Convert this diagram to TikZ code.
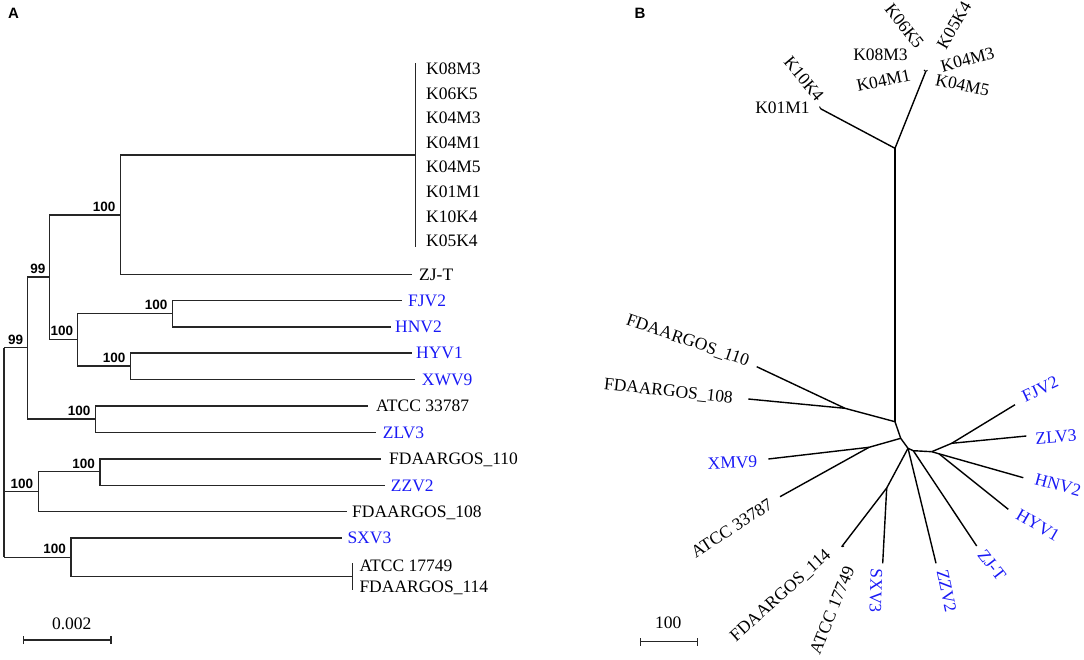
\documentclass[tikz,border=0pt]{standalone}
\usepackage{fontspec}
\setmainfont{Liberation Serif}
\setsansfont{Liberation Sans}
\definecolor{lblue}{RGB}{25,25,245}
\begin{document}
\begin{tikzpicture}[x=1pt,y=-1pt,
  br/.style={draw=black!85,line width=1.2pt},
  bl/.style={draw=black,line width=1.4pt,line join=round},
  lbl/.style={font=\fontsize{17.5}{20}\selectfont,inner sep=0pt,text height=11.6pt,text depth=0pt,anchor=west},
  rl/.style={font=\fontsize{17.5}{20}\selectfont,inner sep=0pt,text height=11.6pt,text depth=0pt,anchor=center},
  bs/.style={font=\sffamily\bfseries\fontsize{13.5}{14}\selectfont,inner sep=0pt,anchor=south east},
  panel/.style={font=\sffamily\bfseries\fontsize{15}{16}\selectfont,inner sep=0pt},
  bluet/.style={text=lblue}]
\useasboundingbox (0,0) rectangle (1084,659);
\node[panel] (PA) at (13.5,13) {A};
\node[panel] (PB) at (640,13) {B};
% ---------------- Panel A ----------------
\coordinate (r1) at (4,347.7);
\coordinate (rb) at (4,491.7);
\coordinate (r2) at (4,557.3);
\coordinate (a1) at (27.3,347.7);
\coordinate (a2) at (49.7,277);
\coordinate (a3) at (120.7,215);
\coordinate (a4) at (77.3,339.3);
\coordinate (a5) at (172.7,313.3);
\coordinate (a6) at (130.7,366);
\coordinate (a7) at (95.7,419);
\coordinate (b1) at (38.3,491.7);
\coordinate (b2) at (100,471.7);
\coordinate (c1) at (71,557.3);
\coordinate (c2) at (352.7,576.7);
\coordinate (kc) at (415.7,155);
\coordinate (kt) at (415.7,63);
\coordinate (kb) at (415.7,247);
\coordinate (eZJT) at (412,274.3);
\coordinate (eFJV2) at (402.3,300.7);
\coordinate (eHNV2) at (390.7,327);
\coordinate (eHYV1) at (411.7,353);
\coordinate (eXWV9) at (415,379.3);
\coordinate (e33787) at (367.7,406);
\coordinate (eZLV3) at (376,432.7);
\coordinate (e110) at (380.7,459);
\coordinate (eZZV2) at (385,485.3);
\coordinate (e108) at (346.7,511.7);
\coordinate (eSXV3) at (341.7,538);
\coordinate (ct) at (352.7,563.3);
\coordinate (cb) at (352.7,590);

\draw[br] (r1) -- (r2);
\draw[br] (r1) -- (a1);
\draw[br] (rb) -- (b1);
\draw[br] (r2) -- (c1);
\draw[br] (a1) |- (a2);
\draw[br] (a1) |- (a7);
\draw[br] (a2) |- (a3);
\draw[br] (a2) |- (a4);
\draw[br] (a3) |- (kc);
\draw[br] (a3) |- (eZJT);
\draw[br] (kt) -- (kb);
\draw[br] (a4) |- (a5);
\draw[br] (a4) |- (a6);
\draw[br] (a5) |- (eFJV2);
\draw[br] (a5) |- (eHNV2);
\draw[br] (a6) |- (eHYV1);
\draw[br] (a6) |- (eXWV9);
\draw[br] (a7) |- (e33787);
\draw[br] (a7) |- (eZLV3);
\draw[br] (b1) |- (b2);
\draw[br] (b1) |- (e108);
\draw[br] (b2) |- (e110);
\draw[br] (b2) |- (eZZV2);
\draw[br] (c1) |- (eSXV3);
\draw[br] (c1) |- (c2);
\draw[br] (ct) -- (cb);

\node[bs] (s1) at ([shift={(-5,-3)}]a3) {100};
\node[bs] (s2) at ([shift={(-4,-3)}]a2) {99};
\node[bs] (s3) at ([shift={(-5,-3)}]a5) {100};
\node[bs] (s4) at ([shift={(-4,-3)}]a4) {100};
\node[bs] (s5) at ([shift={(-5,-3)}]a6) {100};
\node[bs] (s6) at ([shift={(-4,-3)}]a1) {99};
\node[bs] (s7) at ([shift={(-5,-3)}]a7) {100};
\node[bs] (s8) at ([shift={(-5,-3)}]b2) {100};
\node[bs] (s9) at ([shift={(-5,-3)}]b1) {100};
\node[bs] (s10) at ([shift={(-5,-3)}]c1) {100};

\node[lbl] (L1) at (426,69) {K08M3};
\node[lbl] (L2) at (426,94) {K06K5};
\node[lbl] (L3) at (426,118) {K04M3};
\node[lbl] (L4) at (426,143) {K04M1};
\node[lbl] (L5) at (426,167) {K04M5};
\node[lbl] (L6) at (426,192) {K01M1};
\node[lbl] (L7) at (426,217) {K10K4};
\node[lbl] (L8) at (426,241) {K05K4};
\node[lbl] (L9) at (419,274.3) {ZJ-T};
\node[lbl,bluet] (L10) at (408,300.7) {FJV2};
\node[lbl,bluet] (L11) at (395,327) {HNV2};
\node[lbl,bluet] (L12) at (416,353) {HYV1};
\node[lbl,bluet] (L13) at (421.7,379.3) {XWV9};
\node[lbl] (L14) at (376,406) {ATCC 33787};
\node[lbl,bluet] (L15) at (382.7,432.7) {ZLV3};
\node[lbl] (L16) at (389,459) {FDAARGOS\_110};
\node[lbl,bluet] (L17) at (390.7,485.3) {ZZV2};
\node[lbl] (L18) at (352,511.7) {FDAARGOS\_108};
\node[lbl,bluet] (L19) at (347.3,538) {SXV3};
\node[lbl] (L20) at (359.3,565.7) {ATCC 17749};
\node[lbl] (L21) at (359.3,586.7) {FDAARGOS\_114};

\coordinate (sa1) at (23.7,640);
\coordinate (sa2) at (111,640);
\draw[br] (sa1) -- (sa2);
\draw[br] ([yshift=-4]sa1) -- ([yshift=4]sa1);
\draw[br] ([yshift=-4]sa2) -- ([yshift=4]sa2);
\node[rl] (SA) at (71.7,623.3) {0.002};
% ---------------- Panel B ----------------
\coordinate (H) at (895,148.3);
\coordinate (tK01) at (820.7,108.8);
\coordinate (tK04) at (925.7,71.5);
\coordinate (N1) at (895,421.7);
\coordinate (J1) at (845,408.3);
\coordinate (t110) at (756.7,366.7);
\coordinate (t108) at (748.3,399);
\coordinate (N2) at (900.7,438.3);
\coordinate (N3) at (908,448.3);
\coordinate (N3b) at (913.3,450.7);
\coordinate (N4) at (931.7,451.7);
\coordinate (J2) at (869,447.3);
\coordinate (tXMV9) at (768.3,459);
\coordinate (t33787) at (780,496.7);
\coordinate (J3) at (886.7,488);
\coordinate (t114) at (841.7,546.7);
\coordinate (tSXV3) at (882.7,563.3);
\coordinate (tZZV2) at (936,563.3);
\coordinate (tZJT) at (976.7,546);
\coordinate (J4) at (951.7,443.3);
\coordinate (tFJV2) at (1015,404.7);
\coordinate (tZLV3) at (1026.3,436);
\coordinate (J5) at (939,453.8);
\coordinate (tHNV2) at (1023.3,477.7);
\coordinate (tHYV1) at (1008.3,509.3);

\draw[bl] (tK01) -- (H) -- (tK04);
\draw[bl] (H) -- (N1);
\draw[bl] (N1) -- (J1) -- (t110);
\draw[bl] (J1) -- (t108);
\draw[bl] (N1) -- (N2) -- (N3) -- (N3b) -- (N4);
\draw[bl] (N2) -- (J2) -- (tXMV9);
\draw[bl] (J2) -- (t33787);
\draw[bl] (N3) -- (J3) -- (t114);
\draw[bl] (J3) -- (tSXV3);
\draw[bl] (N3) -- (tZZV2);
\draw[bl] (N3b) -- (tZJT);
\draw[bl] (N4) -- (J4) -- (tFJV2);
\draw[bl] (J4) -- (tZLV3);
\draw[bl] (N4) -- (J5) -- (tHNV2);
\draw[bl] (J5) -- (tHYV1);
% tiny forks at collapsed tips
\draw[bl,line width=1pt] (tK01) -- ++(-1.2,-2.2);
\draw[bl,line width=1pt] (tK04) -- ++(-1.8,-1.6);
\draw[bl,line width=1pt] (tK04) -- ++(1.8,-1.2);
\draw[bl,line width=1pt] (t114) -- ++(2.4,-0.6);

\node[rl] (B1) at (782.5,108) {K01M1};
\node[rl,rotate=-50] (B2) at (804,79) {K10K4};
\node[rl] (B3) at (880.5,55) {K08M3};
\node[rl,rotate=12] (B4) at (883.5,80.5) {K04M1};
\node[rl,rotate=-52] (B5) at (904.5,26) {K06K5};
\node[rl,rotate=60] (B6) at (954,25) {K05K4};
\node[rl,rotate=15] (B7) at (967.5,59.5) {K04M3};
\node[rl,rotate=-12] (B8) at (962.5,85) {K04M5};
\node[rl,rotate=-19] (B9) at (688,340) {FDAARGOS\_110};
\node[rl,rotate=-6] (B10) at (668.5,390.5) {FDAARGOS\_108};
\node[rl,bluet,rotate=2] (B11) at (732.5,462.7) {XMV9};
\node[rl,rotate=33] (B12) at (731.7,528) {ATCC 33787};
\node[rl,rotate=42] (B13) at (780,595) {FDAARGOS\_114};
\node[rl,rotate=68] (B14) at (832,610) {ATCC 17749};
\node[rl,bluet,rotate=-92] (B15) at (876,591) {SXV3};
\node[rl,bluet,rotate=-78] (B16) at (946.7,591) {ZZV2};
\node[rl,bluet,rotate=-52] (B17) at (992,565) {ZJ-T};
\node[rl,bluet,rotate=-30] (B18) at (1038,525) {HYV1};
\node[rl,bluet,rotate=-15] (B19) at (1058,484.7) {HNV2};
\node[rl,bluet,rotate=4] (B20) at (1056,437) {ZLV3};
\node[rl,bluet,rotate=25] (B21) at (1040,389) {FJV2};

\coordinate (sb1) at (640.7,641.7);
\coordinate (sb2) at (697.3,641.7);
\draw[br] (sb1) -- (sb2);
\draw[br] ([yshift=-4]sb1) -- ([yshift=4]sb1);
\draw[br] ([yshift=-4]sb2) -- ([yshift=4]sb2);
\node[rl] (SB) at (668.3,622.7) {100};
\end{tikzpicture}
\end{document}
